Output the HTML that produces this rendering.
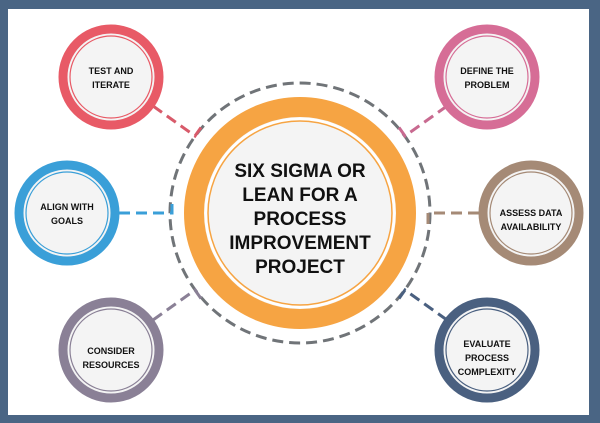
<!DOCTYPE html>
<html><head><style>
body{margin:0;background:#fff}
svg{display:block}
text{font-family:"Liberation Sans",sans-serif;font-weight:bold;fill:#111;text-anchor:middle}
</style></head><body>
<svg width="600" height="423" viewBox="0 0 600 423">
<rect x="0" y="0" width="600" height="423" fill="#4a6584"/>
<rect x="8" y="9" width="581" height="406" fill="#fff"/>
<g fill="none" stroke-width="3" stroke-dasharray="11,6">
<circle cx="300" cy="213" r="130" stroke="#707478" stroke-width="3"/>
<path d="M153,106 L195,136 L202,126" stroke="#d85a6a"/>
<path d="M119,213 L172,213 L172,202" stroke="#3a9fd8"/>
<path d="M153,320 L195,290 L202,300" stroke="#8a8096"/>
<path d="M447,106 L405,136 L398,126" stroke="#c86a90"/>
<path d="M479,213 L428,213 L428,224" stroke="#a58a76"/>
<path d="M447,320 L405,290 L398,300" stroke="#4a6080"/>
</g>
<circle cx="300" cy="213" r="106" fill="#f4f4f4" stroke="#f6a443" stroke-width="20"/>
<circle cx="300" cy="213" r="94" fill="none" stroke="#fff" stroke-width="3"/>
<circle cx="300" cy="213" r="92" fill="none" stroke="#f6a443" stroke-width="1.5"/>
<g font-size="19">
<text x="300" y="177">SIX SIGMA OR</text>
<text x="300" y="201">LEAN FOR A</text>
<text x="300" y="225">PROCESS</text>
<text x="300" y="249">IMPROVEMENT</text>
<text x="300" y="273">PROJECT</text>
</g>
<g fill="#f4f4f4" stroke-width="9">
<circle cx="111" cy="77" r="48" stroke="#e85a66"/>
<circle cx="67" cy="213" r="48" stroke="#3a9fd8"/>
<circle cx="111" cy="350" r="48" stroke="#8a8096"/>
<circle cx="487" cy="77" r="48" stroke="#d66d96"/>
<circle cx="531" cy="213" r="48" stroke="#a58a76"/>
<circle cx="487" cy="350" r="48" stroke="#4a6080"/>
</g>
<g fill="none" stroke-width="1.2">
<circle cx="111" cy="77" r="41" stroke="#e85a66"/>
<circle cx="67" cy="213" r="41" stroke="#3a9fd8"/>
<circle cx="111" cy="350" r="41" stroke="#8a8096"/>
<circle cx="487" cy="77" r="41" stroke="#d66d96"/>
<circle cx="531" cy="213" r="41" stroke="#a58a76"/>
<circle cx="487" cy="350" r="41" stroke="#4a6080"/>
</g>
<g font-size="9">
<text x="111" y="74">TEST AND</text><text x="111" y="88">ITERATE</text>
<text x="67" y="210">ALIGN WITH</text><text x="67" y="224">GOALS</text>
<text x="111" y="354">CONSIDER</text><text x="111" y="368">RESOURCES</text>
<text x="487" y="74">DEFINE THE</text><text x="487" y="88">PROBLEM</text>
<text x="531" y="216">ASSESS DATA</text><text x="531" y="230">AVAILABILITY</text>
<text x="487" y="347">EVALUATE</text><text x="487" y="361">PROCESS</text><text x="487" y="375">COMPLEXITY</text>
</g>
</svg>
</body></html>
